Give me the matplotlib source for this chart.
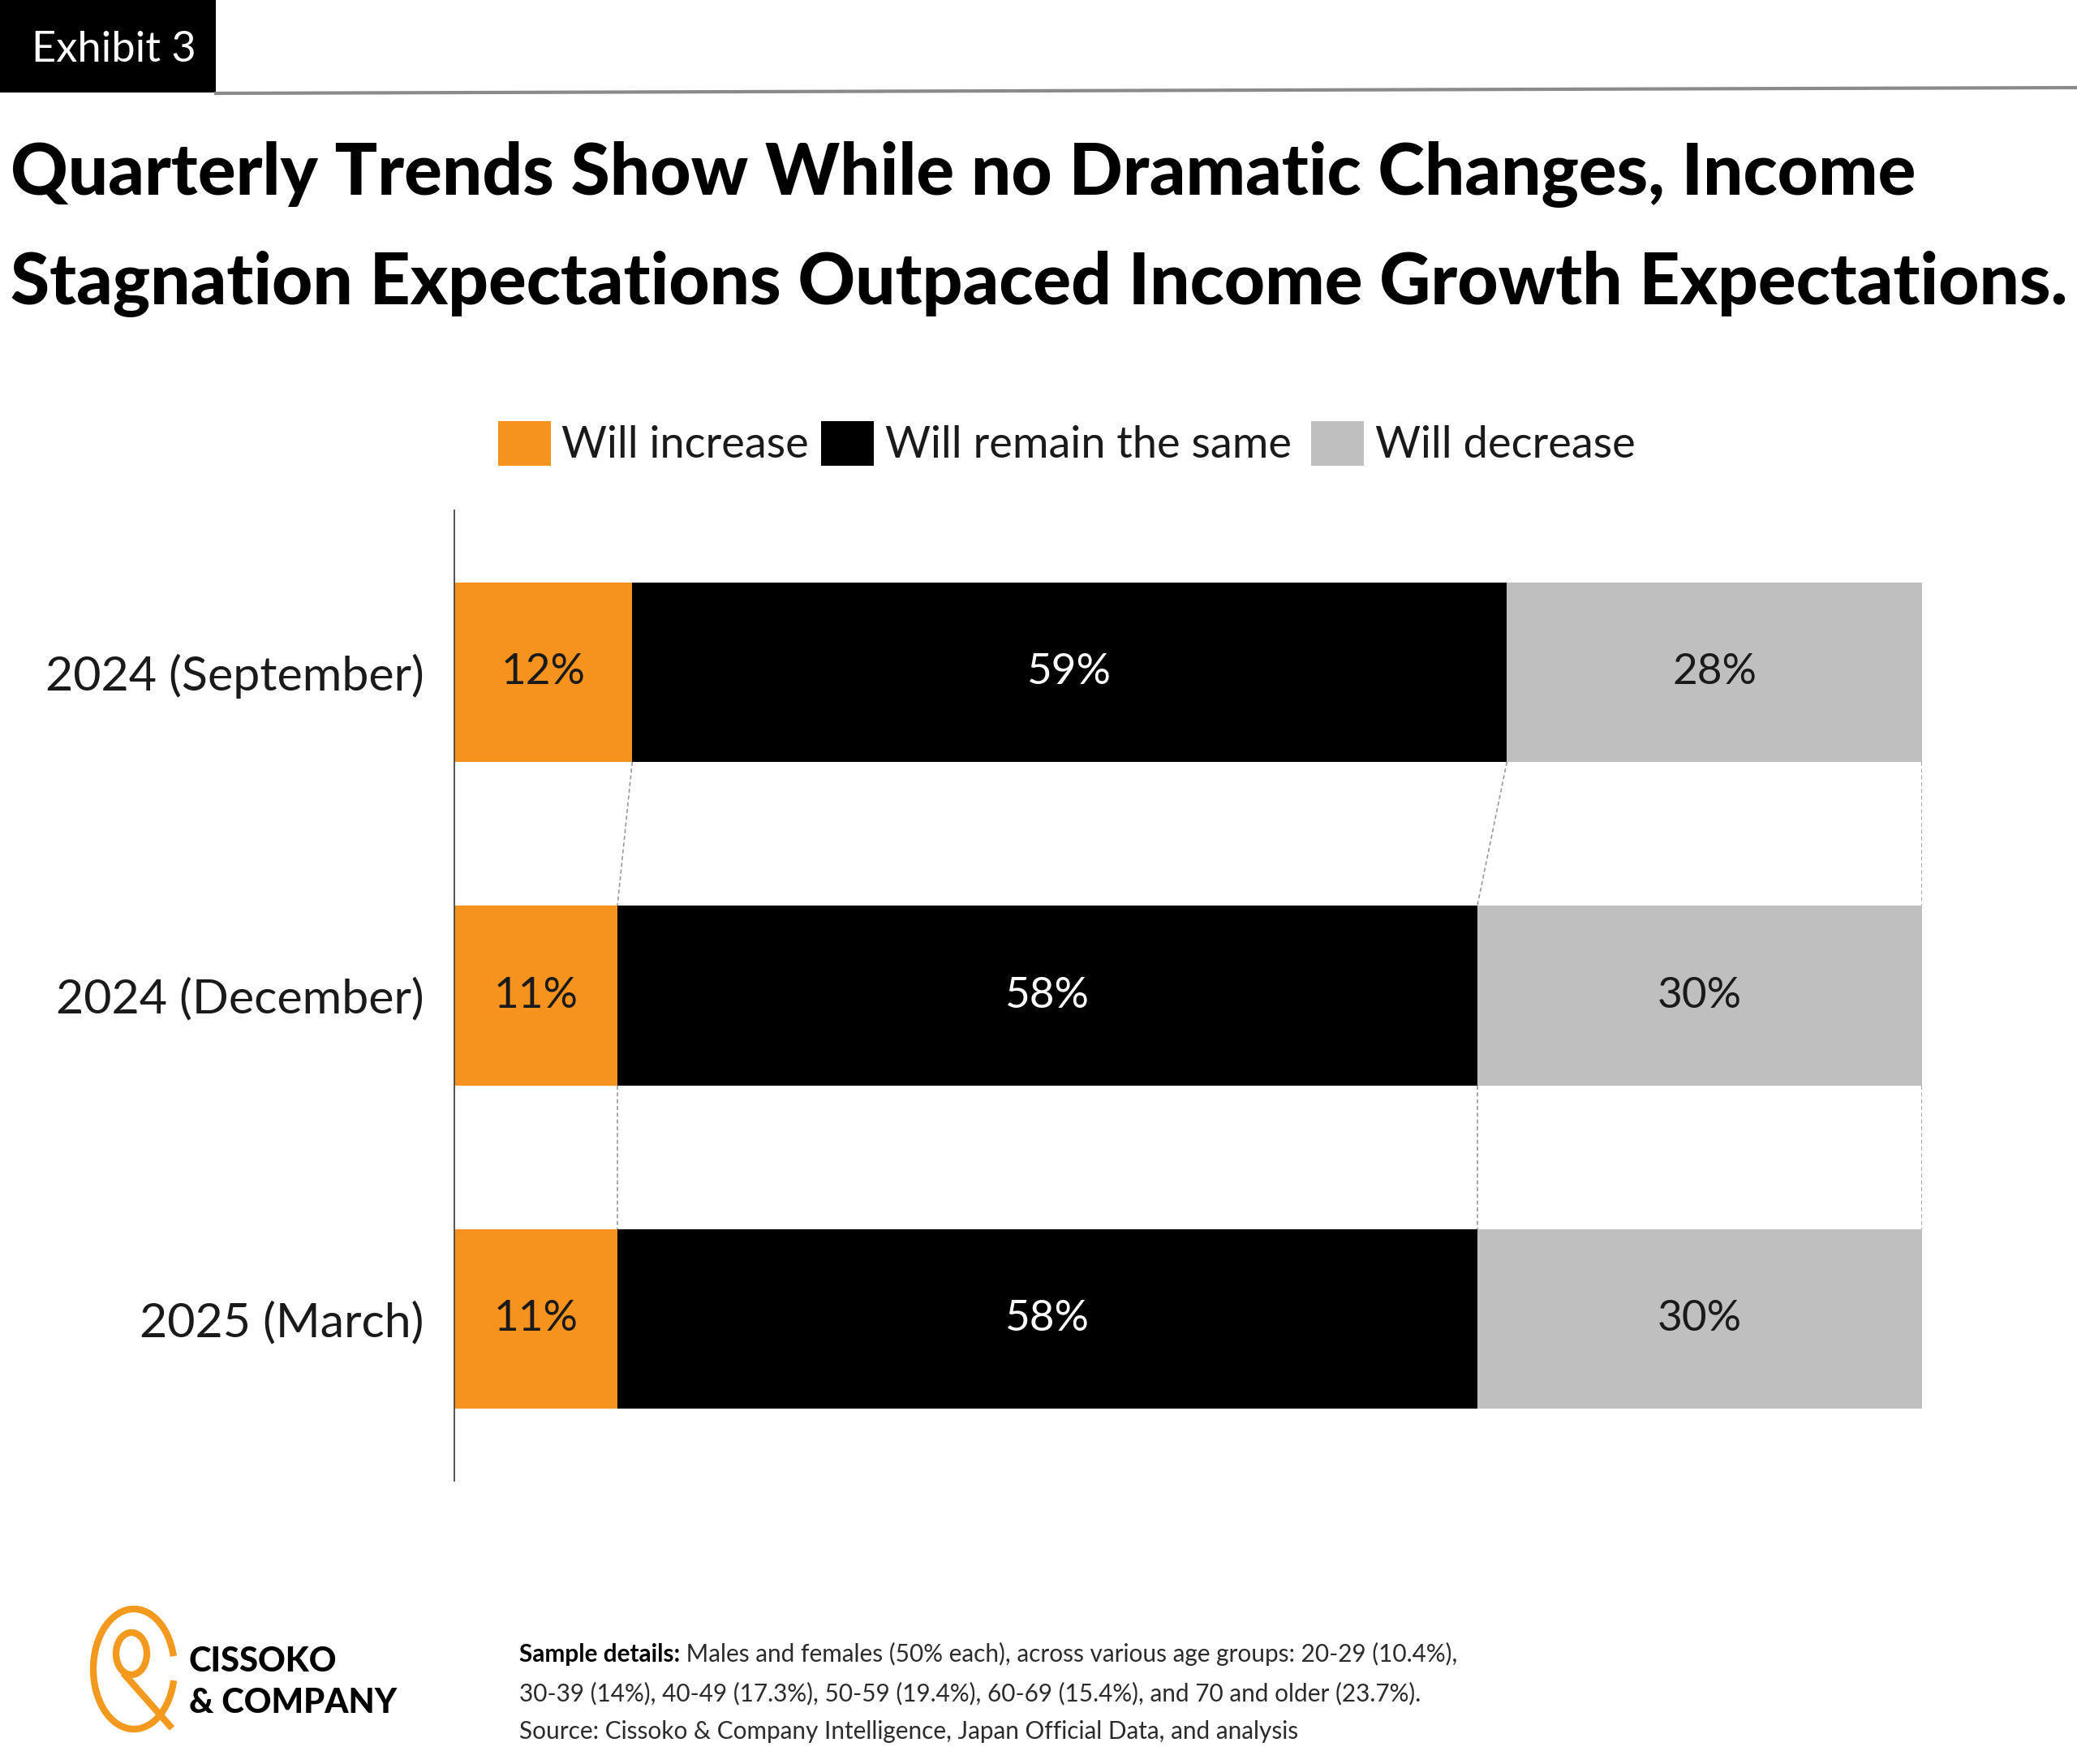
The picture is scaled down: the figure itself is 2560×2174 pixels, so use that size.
import matplotlib
matplotlib.use("Agg")
import matplotlib.pyplot as plt
from matplotlib import font_manager as fm
from matplotlib.patches import Rectangle, Arc, Ellipse
from matplotlib.lines import Line2D
import numpy as np

# ---------------- data ----------------
categories = ["2024 (September)", "2024 (December)", "2025 (March)"]
series_names = ["Will increase", "Will remain the same", "Will decrease"]
increase = [12, 11, 11]
same = [59, 58, 58]
decrease = [28, 30, 30]

exhibit_label = "Exhibit 3"
title_lines = ["Quarterly Trends Show While no Dramatic Changes, Income",
               "Stagnation Expectations Outpaced Income Growth Expectations."]
note_bold = "Sample details:"
note_lines = [" Males and females (50% each), across various age groups: 20-29 (10.4%),",
              "30-39 (14%), 40-49 (17.3%), 50-59 (19.4%), 60-69 (15.4%), and 70 and older (23.7%).",
              "Source: Cissoko & Company Intelligence, Japan Official Data, and analysis"]
logo_lines = ["CISSOKO", "& COMPANY"]

colors = ["#F6921E", "#000000", "#BFBFBF"]
label_colors = ["#1a1a1a", "#ffffff", "#1a1a1a"]

# ---------------- fonts ----------------
def _w(f):
    w = f.weight
    if isinstance(w, str):
        w = fm.weight_dict.get(w, 400)
    return int(w)

def pick(cands, lo, hi, highest=False):
    for fam in cands:
        ws = sorted({_w(f) for f in fm.fontManager.ttflist if f.name == fam and lo <= _w(f) <= hi})
        if ws:
            return fam, (ws[-1] if highest else ws[0])
    return "DejaVu Sans", "normal"

LIGHT = pick(["Lato", "Open Sans", "Roboto", "Noto Sans"], 380, 420)
REG = pick(["Lato", "Open Sans", "Roboto", "Noto Sans"], 380, 420)
BOLD = pick(["Lato", "Open Sans", "Roboto"], 700, 900, highest=True)
SEMI = pick(["Lato", "Open Sans", "Roboto", "Noto Sans"], 700, 700)

W, H = 2560, 2174
fig = plt.figure(figsize=(W / 100, H / 100), dpi=100)
renderer = fig.canvas.get_renderer()

bg = fig.add_axes([0, 0, 1, 1], zorder=0)
bg.set_xlim(0, W)
bg.set_ylim(H, 0)
bg.axis("off")

def fit(t, target, it=2):
    for _ in range(it):
        bb = t.get_window_extent(renderer=renderer)
        t.set_fontsize(t.get_fontsize() * target / bb.width)
    return t

# ---------------- header ----------------
bg.add_patch(Rectangle((0, 0), 266, 114, color="black", lw=0))
t = bg.text(39, 62, exhibit_label, color="white", fontsize=40, family=LIGHT[0],
            weight=LIGHT[1], va="center", ha="left")
fit(t, 203)
bg.add_line(Line2D([266, W], [115, 108], color="#8a8a8a", lw=3))

t2 = bg.text(13, 375, title_lines[1], fontsize=60, family=BOLD[0], weight=BOLD[1],
             va="baseline", ha="left", color="black")
fit(t2, 2537)
t1 = bg.text(13, 240, title_lines[0], fontsize=t2.get_fontsize(), family=BOLD[0],
             weight=BOLD[1], va="baseline", ha="left", color="black")

# ---------------- chart ----------------
ax = fig.add_axes([560 / W, 1 - 1825 / H, (2369 - 560) / W, (1825 - 629) / H], zorder=1)
ax.patch.set_alpha(0)
vals = np.array([increase, same, decrease], dtype=float)
totals = vals.sum(axis=0)
shares = vals / totals * 100
y = np.arange(len(categories))
bar_h = 0.555
left = np.zeros(len(categories))
conts = []
for k in range(3):
    c = ax.barh(y, shares[k], left=left, height=bar_h, color=colors[k], lw=0, zorder=2)
    conts.append(c)
    left = left + shares[k]

# connector lines between bars
cum = np.cumsum(shares, axis=0)
for k in range(3):
    for i in range(len(categories) - 1):
        ax.plot([cum[k, i], cum[k, i + 1]], [y[i] + bar_h / 2, y[i + 1] - bar_h / 2],
                color="#9a9a9a", lw=1.2, ls=(0, (3, 2)), zorder=1)

ax.set_xlim(0, 100)
ax.set_ylim(len(categories) - 0.5, -0.5)
ax.set_xticks([])
ax.set_yticks(y)
ax.set_yticklabels(categories, family=LIGHT[0], weight=LIGHT[1], color="#1a1a1a")
ax.tick_params(axis="y", length=0, pad=27, labelsize=38)
for s in ["top", "right", "bottom"]:
    ax.spines[s].set_visible(False)
ax.spines["left"].set_color("#444444")
ax.spines["left"].set_linewidth(1.3)

raw = [increase, same, decrease]
lab_texts = []
for k in range(3):
    labs = ax.bar_label(conts[k], labels=[f"{v}%" for v in raw[k]], label_type="center",
                        color=label_colors[k], fontsize=38, family=LIGHT[0], weight=LIGHT[1],
                        zorder=5)
    lab_texts.append(labs)

fig.canvas.draw()
ref = lab_texts[1][0]
bb = ref.get_window_extent(renderer=renderer)
pct_size = ref.get_fontsize() * 104 / bb.width
for labs in lab_texts:
    for l in labs:
        l.set_fontsize(pct_size)
tl = ax.get_yticklabels()[0]
bb = tl.get_window_extent(renderer=renderer)
ax.tick_params(axis="y", labelsize=tl.get_fontsize() * 468 / bb.width)

# ---------------- legend ----------------
sq_x = [614, 1012, 1616]
tx_x = [692, 1091, 1695]
leg_texts = []
for k in range(3):
    bg.add_patch(Rectangle((sq_x[k], 519), 65, 55, color=colors[k], lw=0))
    lt = bg.text(tx_x[k], 549, series_names[k], fontsize=38, family=LIGHT[0],
                 weight=LIGHT[1], va="center", ha="left", color="#1a1a1a")
    leg_texts.append(lt)
fit(leg_texts[1], 501)
for lt in leg_texts:
    lt.set_fontsize(leg_texts[1].get_fontsize())

# ---------------- logo ----------------
orange = "#F39A1E"
bg.add_patch(Arc((165, 2057), 100, 148, theta1=16, theta2=342, color=orange, lw=6))
bg.add_patch(Ellipse((162, 2038), 38, 52, fill=False, edgecolor=orange, lw=6))
bg.add_line(Line2D([152, 212], [2062, 2130], color=orange, lw=6, solid_capstyle="butt"))
lg1 = bg.text(233, 2060, logo_lines[0], fontsize=30, family=BOLD[0], weight=BOLD[1],
              va="baseline", ha="left", color="black")
fit(lg1, 183)
lg2 = bg.text(233, 2111, logo_lines[1], fontsize=lg1.get_fontsize(), family=BOLD[0],
              weight=BOLD[1], va="baseline", ha="left", color="black")

# ---------------- notes ----------------
note_color = "#2b2b2b"
base_y = [2048, 2096, 2143]
fs = 24
nb = bg.text(640, base_y[0], note_bold, fontsize=fs, family=SEMI[0], weight=SEMI[1],
             va="baseline", ha="left", color="black")
nr = bg.text(640, base_y[0], note_lines[0], fontsize=fs, family=REG[0], weight=REG[1],
             va="baseline", ha="left", color=note_color)
for _ in range(2):
    wb = nb.get_window_extent(renderer=renderer).width
    wr = nr.get_window_extent(renderer=renderer).width
    fs = fs * 1161 / (wb + wr)
    nb.set_fontsize(fs)
    nr.set_fontsize(fs)
wb = nb.get_window_extent(renderer=renderer).width
nr.set_x(640 + wb)
for i in (1, 2):
    bg.text(640, base_y[i], note_lines[i], fontsize=fs, family=REG[0], weight=REG[1],
            va="baseline", ha="left", color=note_color)

fig.savefig("out.png", dpi=100, facecolor="white")
